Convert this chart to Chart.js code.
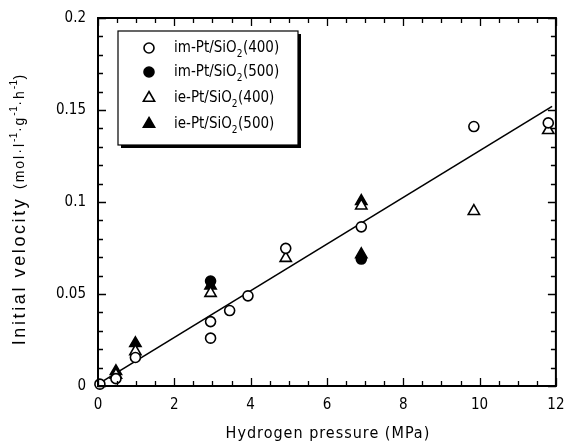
<!DOCTYPE html>
<html>
<head>
<meta charset="utf-8">
<script src="https://cdn.jsdelivr.net/npm/chart.js@4.4.1/dist/chart.umd.min.js"></script>
<style>
  html, body { margin: 0; padding: 0; background: #fff; }
  #wrap { width: 564px; height: 444px; }
</style>
</head>
<body>
<div id="wrap"><canvas id="chart"></canvas></div>
<script>
// data
const seriesNames = ["im-Pt/SiO₂(400)", "im-Pt/SiO₂(500)", "ie-Pt/SiO₂(400)", "ie-Pt/SiO₂(500)"];

const im400X = [0.05, 0.47, 0.98, 2.95, 2.95, 3.45, 3.93, 4.92, 6.9, 9.85, 11.8];
const im400Y = [0.001, 0.004, 0.0155, 0.035, 0.026, 0.041, 0.049, 0.0748, 0.0865, 0.141, 0.143];

const im500X = [2.95, 6.9];
const im500Y = [0.057, 0.069];

const ie400X = [0.47, 0.98, 2.95, 4.92, 6.9, 9.85, 11.8];
const ie400Y = [0.006, 0.0188, 0.0505, 0.0695, 0.098, 0.095, 0.139];

const ie500X = [0.47, 0.98, 2.95, 6.9, 6.9];
const ie500Y = [0.008, 0.0232, 0.0545, 0.1005, 0.0715];

// fitted straight line
const fitX = [0, 11.9];
const fitY = [0.001, 0.152];

const xTicks = [0, 2, 4, 6, 8, 10, 12];
const yTicks = [0, 0.05, 0.1, 0.15, 0.2];
const xMinorStep = 0.5;
const yMinorStep = 0.01;

const xTitle = "Hydrogen pressure (MPa)";
const yTitleMain = "Initial velocity ";
const yTitleUnit = ["(mol·l", "-1", "·g", "-1", "·h", "-1", ")"];

const tickFont = "'Liberation Sans Narrow', 'DejaVu Sans Condensed', sans-serif";
const textFont = "'DejaVu Sans Condensed', sans-serif";
const yTitleFont = "'Liberation Sans', Arial, sans-serif";

function pts(xs, ys) {
  return xs.map((x, i) => ({ x: x, y: ys[i] }));
}

const styles = [
  { pointStyle: "circle", radius: 5, fill: "#fff" },
  { pointStyle: "circle", radius: 5, fill: "#000" },
  { pointStyle: "triangle", radius: 6.5, fill: "#fff" },
  { pointStyle: "triangle", radius: 6.5, fill: "#000" }
];
const seriesData = [pts(im400X, im400Y), pts(im500X, im500Y), pts(ie400X, ie400Y), pts(ie500X, ie500Y)];

const datasets = seriesData.map((d, i) => ({
  label: seriesNames[i],
  data: d,
  showLine: false,
  pointStyle: styles[i].pointStyle,
  pointRadius: styles[i].radius,
  pointHoverRadius: styles[i].radius,
  pointBorderWidth: 1.6,
  pointBorderColor: "#000",
  pointBackgroundColor: styles[i].fill,
  clip: false,
  order: 1
}));

datasets.push({
  label: "fit",
  data: pts(fitX, fitY),
  showLine: true,
  borderColor: "#000",
  borderWidth: 1.6,
  pointRadius: 0,
  clip: false,
  order: 10
});

// inward ticks, frame, legend and titles
const framePlugin = {
  id: "frame",
  afterDraw(chart) {
    const ctx = chart.ctx;
    const a = chart.chartArea;
    const xs = chart.scales.x, ys = chart.scales.y;
    ctx.save();
    ctx.strokeStyle = "#000";

    // minor + major ticks on all four sides
    ctx.lineWidth = 1.3;
    ctx.beginPath();
    for (let v = xs.min; v <= xs.max + 1e-9; v += xMinorStep) {
      const px = Math.round(xs.getPixelForValue(v)) + 0.5;
      const len = xTicks.some(t => Math.abs(t - v) < 1e-6) ? 8 : 5;
      ctx.moveTo(px, a.bottom); ctx.lineTo(px, a.bottom - len);
      ctx.moveTo(px, a.top); ctx.lineTo(px, a.top + len);
    }
    for (let v = ys.min; v <= ys.max + 1e-9; v += yMinorStep) {
      const py = Math.round(ys.getPixelForValue(v)) + 0.5;
      const len = yTicks.some(t => Math.abs(t - v) < 1e-6) ? 8 : 5;
      ctx.moveTo(a.left, py); ctx.lineTo(a.left + len, py);
      ctx.moveTo(a.right, py); ctx.lineTo(a.right - len, py);
    }
    ctx.stroke();

    ctx.lineWidth = 2;
    ctx.strokeRect(a.left, a.top, a.right - a.left, a.bottom - a.top);

    // legend box with shadow
    const lx = 118, ly = 31, lw = 180, lh = 114;
    ctx.fillStyle = "#000";
    ctx.fillRect(lx + 3, ly + 3, lw, lh);
    ctx.fillStyle = "#fff";
    ctx.fillRect(lx, ly, lw, lh);
    ctx.lineWidth = 1.2;
    ctx.strokeRect(lx, ly, lw, lh);

    const rowY = [48, 72, 98, 124];
    seriesNames.forEach((name, i) => {
      const ds = chart.data.datasets[i];
      ctx.fillStyle = ds.pointBackgroundColor;
      ctx.strokeStyle = "#000";
      ctx.lineWidth = ds.pointBorderWidth;
      Chart.helpers.drawPoint(ctx, {
        pointStyle: ds.pointStyle,
        radius: ds.pointRadius,
        borderWidth: ds.pointBorderWidth,
        rotation: 0
      }, 149, rowY[i]);

      // text with subscript 2
      ctx.fillStyle = "#000";
      ctx.textBaseline = "middle";
      ctx.textAlign = "left";
      let x = 174;
      const parts = name.split("₂");
      parts.forEach((p, k) => {
        ctx.font = "15px " + tickFont;
        ctx.fillText(p, x, rowY[i]);
        x += ctx.measureText(p).width;
        if (k < parts.length - 1) {
          ctx.font = "10px " + tickFont;
          ctx.fillText("2", x, rowY[i] + 6);
          x += ctx.measureText("2").width + 0.5;
        }
      });
    });

    // x title
    ctx.fillStyle = "#000";
    ctx.textAlign = "center";
    ctx.textBaseline = "middle";
    ctx.font = "16px " + textFont;
    ctx.letterSpacing = "1px";
    ctx.fillText(xTitle, (a.left + a.right) / 2 + 1, 434);

    // y title: rotated, unit part smaller with superscripts
    ctx.save();
    ctx.translate(20, 209);
    ctx.rotate(-Math.PI / 2);
    ctx.textBaseline = "middle";
    ctx.textAlign = "left";
    const segs = [{ t: yTitleMain, f: "18px " + yTitleFont, dy: 0, ls: "2.6px" }];
    yTitleUnit.forEach((t, k) => {
      segs.push(k % 2 === 1
        ? { t: t, f: "10px " + yTitleFont, dy: -6, ls: "0.5px" }
        : { t: t, f: "14px " + yTitleFont, dy: 0, ls: "2px" });
    });
    let total = 0;
    segs.forEach(s => { ctx.font = s.f; ctx.letterSpacing = s.ls; total += ctx.measureText(s.t).width; });
    let sx = -total / 2;
    segs.forEach(s => {
      ctx.font = s.f;
      ctx.letterSpacing = s.ls;
      ctx.fillText(s.t, sx, s.dy);
      sx += ctx.measureText(s.t).width;
    });
    ctx.restore();

    ctx.restore();
  }
};

new Chart(document.getElementById("chart"), {
  type: "scatter",
  data: { datasets: datasets },
  options: {
    responsive: true,
    maintainAspectRatio: false,
    animation: false,
    events: [],
    layout: { padding: { left: 0, right: 7, top: 18, bottom: 0 } },
    plugins: {
      legend: { display: false },
      tooltip: { enabled: false }
    },
    scales: {
      x: {
        type: "linear",
        min: xTicks[0],
        max: xTicks[xTicks.length - 1],
        afterBuildTicks: s => { s.ticks = xTicks.map(v => ({ value: v })); },
        afterFit: s => { s.height = 58; s.paddingLeft = 0; s.paddingRight = 0; },
        grid: { display: false },
        border: { display: false },
        ticks: {
          padding: 2,
          color: "#000",
          font: { family: tickFont, size: 15 },
          maxRotation: 0,
          callback: v => String(v)
        },
        title: { display: false }
      },
      y: {
        type: "linear",
        min: yTicks[0],
        max: yTicks[yTicks.length - 1],
        afterBuildTicks: s => { s.ticks = yTicks.map(v => ({ value: v })); },
        afterFit: s => { s.width = 98; s.paddingTop = 0; s.paddingBottom = 0; },
        grid: { display: false },
        border: { display: false },
        ticks: {
          padding: 4,
          color: "#000",
          font: { family: tickFont, size: 15 },
          callback: v => String(v)
        },
        title: { display: false }
      }
    }
  },
  plugins: [framePlugin]
});
</script>
</body>
</html>
